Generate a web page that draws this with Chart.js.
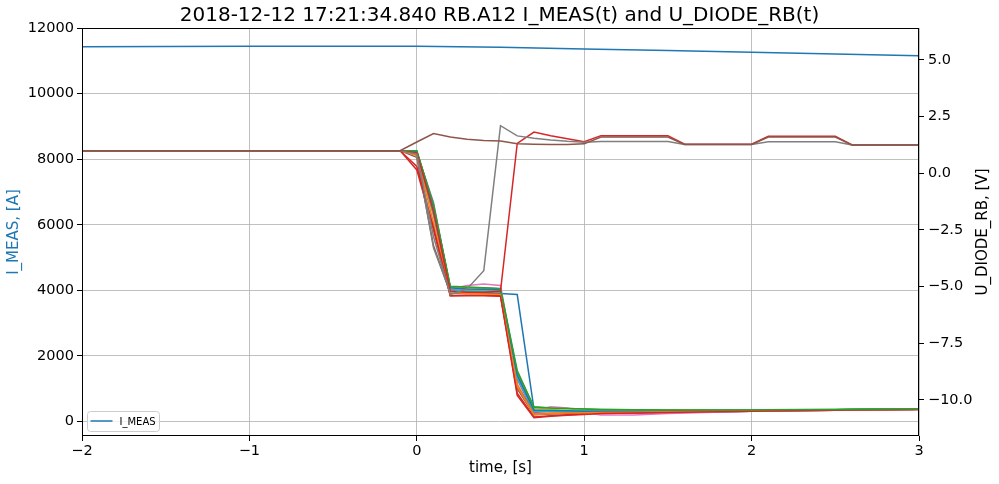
<!DOCTYPE html>
<html>
<head>
<meta charset="utf-8">
<script src="https://cdn.jsdelivr.net/npm/chart.js@4.4.0/dist/chart.umd.min.js"></script>
<style>
  html, body { margin: 0; padding: 0; background: #fff; }
  #wrap { width: 999px; height: 484px; }
</style>
</head>
<body>
<div id="wrap"><canvas id="chart" width="999" height="484"></canvas></div>
<script>
const FONT = '"DejaVu Sans", sans-serif';
const TITLE = '2018-12-12 17:21:34.840 RB.A12 I_MEAS(t) and U_DIODE_RB(t)';
const RIGHT_TITLE = 'U_DIODE_RB, [V]';

// ticks
const xTicks = [-2, -1, 0, 1, 2, 3];
const leftTicks = [0, 2000, 4000, 6000, 8000, 10000, 12000];
const rightTicks = [-10, -7.5, -5, -2.5, 0, 2.5, 5];

// I_MEAS, left axis [A]
const iTime = [-2, -1, 0, 0.5, 1, 1.5, 2, 2.5, 3];
const iMeas = [11432, 11440, 11446, 11410, 11362, 11312, 11262, 11210, 11157];

// U_DIODE_RB, right axis [V]
const uTime = [-2, -0.1, 0, 0.1, 0.2, 0.3, 0.4, 0.5, 0.6, 0.7, 0.8, 0.9, 1.0, 1.1, 1.3, 1.5, 1.6, 2.0, 2.1, 2.5, 2.6, 3.0];

const uBlueA   = [1.0, 1.0, 0.95, -1.7, -5.15, -5.2, -5.25, -5.3, -5.35, -10.4, -10.48, -10.5, -10.5, -10.5, -10.5, -10.49, -10.49, -10.47, -10.46, -10.44, -10.43, -10.41];
const uOrangeA = [1.0, 1.0, 0.85, -1.9, -5.2, -5.25, -5.3, -5.35, -9.3, -10.6, -10.58, -10.56, -10.55, -10.54, -10.53, -10.52, -10.51, -10.48, -10.47, -10.44, -10.43, -10.41];
const uGreenA  = [1.0, 1.0, 0.98, -1.45, -5.0, -5.05, -5.1, -5.12, -8.8, -10.3, -10.35, -10.38, -10.4, -10.42, -10.43, -10.44, -10.44, -10.44, -10.43, -10.42, -10.41, -10.4];
const uRedA    = [1.0, 1.0, 0.15, -2.5, -5.4, -5.38, -5.38, -5.4, -9.7, -10.75, -10.7, -10.65, -10.62, -10.6, -10.57, -10.55, -10.54, -10.5, -10.49, -10.45, -10.44, -10.41];
const uPurpleA = [1.0, 1.0, 0.92, -1.3, -5.1, -5.1, -5.05, -5.1, -9.1, -10.55, -10.5, -10.52, -10.54, -10.56, -10.58, -10.56, -10.55, -10.5, -10.48, -10.45, -10.44, -10.41];
const uBrownA  = [1.0, 1.0, 0.7, -3.2, -5.3, -5.3, -5.3, -5.32, -9.5, -10.65, -10.62, -10.6, -10.58, -10.57, -10.55, -10.53, -10.52, -10.49, -10.48, -10.45, -10.44, -10.42];
const uPinkA   = [1.0, 1.0, 0.9, -1.5, -5.1, -4.95, -4.88, -4.95, -9.0, -10.45, -10.3, -10.35, -10.55, -10.66, -10.66, -10.6, -10.57, -10.5, -10.48, -10.45, -10.44, -10.42];
const uGrayA   = [1.0, 1.0, 0.8, -3.3, -5.25, -5.22, -5.2, -5.25, -9.4, -10.5, -10.5, -10.5, -10.5, -10.5, -10.5, -10.5, -10.49, -10.47, -10.46, -10.44, -10.43, -10.41];
const uOliveA  = [1.0, 1.0, 0.95, -1.6, -5.05, -5.08, -5.1, -5.15, -8.9, -10.4, -10.42, -10.45, -10.47, -10.48, -10.48, -10.48, -10.47, -10.46, -10.45, -10.43, -10.42, -10.4];
const uCyanA   = [1.0, 1.0, 0.9, -1.8, -5.15, -5.18, -5.2, -5.2, -9.0, -10.5, -10.5, -10.5, -10.5, -10.5, -10.5, -10.49, -10.48, -10.46, -10.45, -10.43, -10.42, -10.4];
const uBlueB   = [1.0, 1.0, 0.96, -1.5, -5.05, -5.1, -5.12, -5.15, -8.9, -10.45, -10.47, -10.48, -10.5, -10.5, -10.5, -10.49, -10.48, -10.46, -10.45, -10.43, -10.42, -10.4];
const uOrangeB = [1.0, 1.0, 0.8, -2.2, -5.25, -5.3, -5.32, -5.35, -9.4, -10.65, -10.6, -10.58, -10.56, -10.55, -10.54, -10.52, -10.51, -10.48, -10.47, -10.44, -10.43, -10.41];
const uRedLow  = [1.0, 1.0, 0.3, -2.4, -5.4, -5.4, -5.4, -5.42, -9.8, -10.78, -10.72, -10.68, -10.64, -10.6, -10.57, -10.55, -10.54, -10.5, -10.49, -10.45, -10.44, -10.42];
const uGreenB  = [1.0, 1.0, 1.0, -1.4, -4.98, -5.02, -5.05, -5.08, -8.7, -10.32, -10.36, -10.38, -10.4, -10.42, -10.43, -10.44, -10.44, -10.44, -10.43, -10.42, -10.41, -10.4];
// diodes that recovered / never opened
const uRedSpike  = [1.0, 1.0, 0.9, -1.7, -5.2, -5.25, -5.25, -5.2, 1.32, 1.82, 1.66, 1.52, 1.39, 1.66, 1.66, 1.66, 1.28, 1.28, 1.63, 1.63, 1.25, 1.25];
const uGraySpike = [1.0, 1.0, 0.85, -2.8, -5.35, -5.1, -4.3, 2.1, 1.65, 1.55, 1.47, 1.41, 1.37, 1.4, 1.4, 1.4, 1.27, 1.27, 1.39, 1.39, 1.25, 1.25];
const uBrownOpen = [1.0, 1.0, 1.38, 1.75, 1.6, 1.5, 1.45, 1.42, 1.3, 1.28, 1.27, 1.27, 1.3, 1.6, 1.6, 1.6, 1.27, 1.27, 1.6, 1.6, 1.25, 1.25];

// drawn in this order (last on top)
const diodeSeries = [
    ['#1f77b4', uBlueA], ['#ff7f0e', uOrangeA], ['#2ca02c', uGreenA], ['#d62728', uRedA],
    ['#9467bd', uPurpleA], ['#8c564b', uBrownA], ['#e377c2', uPinkA], ['#7f7f7f', uGrayA],
    ['#bcbd22', uOliveA], ['#17becf', uCyanA], ['#1f77b4', uBlueB], ['#ff7f0e', uOrangeB],
    ['#d62728', uRedLow], ['#2ca02c', uGreenB], ['#d62728', uRedSpike], ['#7f7f7f', uGraySpike],
    ['#8c564b', uBrownOpen]
];

const toXY = (xs, ys) => xs.map((x, i) => ({ x: x, y: ys[i] }));
const minus = s => String(s).replace('-', '\u2212');

const datasets = [{
    label: 'I_MEAS',
    data: toXY(iTime, iMeas),
    yAxisID: 'y',
    borderColor: '#1f77b4',
    borderWidth: 1.5,
    pointRadius: 0,
    order: 100
}];
diodeSeries.forEach(([color, vals], i) => {
    datasets.push({
        label: 'U_DIODE_RB ' + (i + 1),
        data: toXY(uTime, vals),
        yAxisID: 'y2',
        borderColor: color,
        borderWidth: 1.5,
        pointRadius: 0,
        order: -i
    });
});

const tickFont = { family: FONT, size: 14.5 };
const titleFont = { family: FONT, size: 15 };

const framePlugin = {
    id: 'frame',
    afterDraw(chart) {
        const { ctx, chartArea: a } = chart;
        ctx.save();
        ctx.strokeStyle = '#000';
        ctx.lineWidth = 1;
        ctx.strokeRect(Math.round(a.left) + 0.5, Math.round(a.top) + 0.5, Math.round(a.right - a.left) - 1, Math.round(a.bottom - a.top) - 1);

        // right axis label, reads bottom to top
        ctx.translate(983, (a.top + a.bottom) / 2);
        ctx.rotate(-Math.PI / 2);
        ctx.fillStyle = '#000';
        ctx.font = '15px ' + FONT;
        ctx.textAlign = 'center';
        ctx.textBaseline = 'middle';
        ctx.fillText(RIGHT_TITLE, 0, 0);
        ctx.restore();

        // legend (lower left)
        const ds = chart.data.datasets[0];
        const bx = a.left + 5.5, by = a.bottom - 24.5, bw = 72, bh = 20;
        ctx.save();
        ctx.beginPath();
        ctx.roundRect(bx, by, bw, bh, 3);
        ctx.fillStyle = 'rgba(255,255,255,0.8)';
        ctx.fill();
        ctx.strokeStyle = '#cccccc';
        ctx.lineWidth = 1;
        ctx.stroke();
        ctx.beginPath();
        ctx.moveTo(bx + 3, by + 9.5);
        ctx.lineTo(bx + 25, by + 9.5);
        ctx.strokeStyle = ds.borderColor;
        ctx.lineWidth = 1.5;
        ctx.stroke();
        ctx.fillStyle = '#000';
        ctx.font = '10px ' + FONT;
        ctx.textBaseline = 'middle';
        ctx.fillText(ds.label, bx + 32, by + 10.5);
        ctx.restore();
    }
};

new Chart(document.getElementById('chart'), {
    type: 'line',
    data: { datasets },
    options: {
        responsive: false,
        animation: false,
        devicePixelRatio: 1,
        layout: { padding: 0 },
        elements: { line: { tension: 0 } },
        plugins: {
            legend: { display: false },
            tooltip: { enabled: false },
            title: {
                display: true,
                text: TITLE,
                color: '#000',
                font: { family: FONT, size: 20, weight: 'normal' },
                padding: { top: 4, bottom: 0 }
            }
        },
        scales: {
            x: {
                type: 'linear',
                min: -2,
                max: 3,
                afterBuildTicks: s => { s.ticks = xTicks.map(v => ({ value: v })); },
                afterFit: s => { s.height = 48; },
                ticks: { color: '#000', font: tickFont, padding: 2, maxRotation: 0, callback: v => minus(v) },
                grid: { color: '#b0b0b0', lineWidth: 0.8, tickColor: '#000', tickWidth: 1, tickLength: 5 },
                border: { display: false },
                title: { display: true, text: 'time, [s]', color: '#000', font: titleFont, padding: { top: 0, bottom: 7 } }
            },
            y: {
                position: 'left',
                min: -440,
                max: 12000,
                afterBuildTicks: s => { s.ticks = leftTicks.map(v => ({ value: v })); },
                afterFit: s => { s.width = 82; },
                ticks: { color: '#000', font: tickFont, padding: 3, callback: v => minus(v) },
                grid: { color: '#b0b0b0', lineWidth: 0.8, tickColor: '#000', tickWidth: 1, tickLength: 5 },
                border: { display: false },
                title: { display: true, text: 'I_MEAS, [A]', color: '#1f77b4', font: titleFont, padding: { top: 5, bottom: 0 } }
            },
            y2: {
                position: 'right',
                min: -11.59,
                max: 6.41,
                afterBuildTicks: s => { s.ticks = rightTicks.map(v => ({ value: v })); },
                afterFit: s => { s.width = 80; },
                ticks: { color: '#000', font: tickFont, padding: 4, callback: v => minus(v.toFixed(1)) },
                grid: { drawOnChartArea: false, tickColor: '#000', tickWidth: 1, tickLength: 5 },
                border: { display: false }
            }
        }
    },
    plugins: [framePlugin]
});
</script>
</body>
</html>
